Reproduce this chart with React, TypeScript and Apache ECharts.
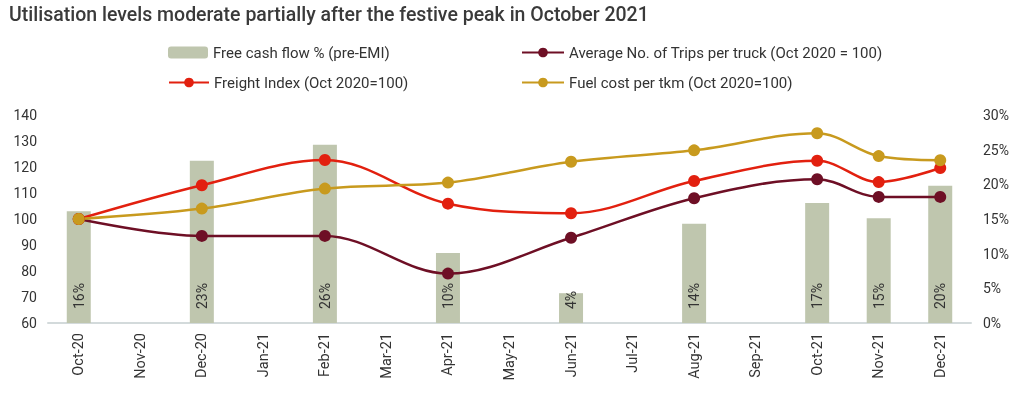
import React, { useEffect, useRef } from "react";
import * as echarts from "echarts";

const months = ["Oct-20", "Nov-20", "Dec-20", "Jan-21", "Feb-21", "Mar-21", "Apr-21", "May-21", "Jun-21", "Jul-21", "Aug-21", "Sep-21", "Oct-21", "Nov-21", "Dec-21"];
const freeCashFlow = [16.1, null, 23.4, null, 25.7, null, 10.1, null, 4.3, null, 14.3, null, 17.3, 15.1, 19.8];
const avgTrips = [100, null, 93.5, null, 93.5, null, 79, null, 92.8, null, 108, null, 115.3, 108.5, 108.5];
const freightIndex = [100, null, 113, null, 122.7, null, 105.9, null, 102.2, null, 114.6, null, 122.4, 114.2, 119.6];
const fuelCost = [100, null, 104, null, 111.7, null, 114, null, 122, null, 126.4, null, 133, 124.2, 122.6];

const names = [
  "Free cash flow % (pre-EMI)",
  "Average No. of Trips per truck (Oct 2020 = 100)",
  "Freight Index (Oct 2020=100)",
  "Fuel cost per tkm (Oct 2020=100)",
];

export default function App() {
  const ref = useRef<HTMLDivElement>(null);
  useEffect(() => {
    if (!ref.current) return;
    const chart = echarts.init(ref.current, null, { renderer: "svg" });
    const font = "Roboto, 'Noto Sans', sans-serif";
    const legendText = { fontSize: 15, color: "#333", fontFamily: font };
    const mkLegend = (name: string, left: number, top: number, w: number) => ({
      data: [name],
      left,
      top,
      itemWidth: w,
      itemHeight: 12,
      itemGap: 4,
      textStyle: legendText,
      selectedMode: false,
    });
    const lineSeries = (name: string, data: (number | null)[], color: string) => ({
      name,
      type: "line",
      data,
      yAxisIndex: 0,
      connectNulls: true,
      smooth: 0.35,
      symbol: "circle",
      symbolSize: 12,
      lineStyle: { color, width: 2.5 },
      itemStyle: { color },
      z: 3,
    });
    chart.setOption({
      animation: false,
      textStyle: { fontFamily: font },
      title: {
        text: "Utilisation levels moderate partially after the festive peak in October 2021",
        left: 4,
        top: -1,
        textStyle: { fontSize: 19.5, fontWeight: 500, color: "#3a3a3a", fontFamily: font },
      },
      legend: [
        mkLegend(names[0], 163, 40, 40),
        mkLegend(names[1], 516, 40, 42),
        mkLegend(names[2], 163, 70, 40),
        mkLegend(names[3], 516, 70, 42),
      ],
      grid: { left: 48, right: 53, top: 115, bottom: 73 },
      xAxis: {
        type: "category",
        data: months,
        boundaryGap: true,
        axisTick: { show: false },
        axisLine: { lineStyle: { color: "#d3dadb", width: 2 } },
        axisLabel: { rotate: 90, fontSize: 14.5, color: "#333", margin: 10, fontFamily: font },
      },
      yAxis: [
        {
          type: "value",
          min: 60,
          max: 140,
          interval: 10,
          splitLine: { show: false },
          axisLine: { show: false },
          axisTick: { show: false },
          axisLabel: { fontSize: 14, color: "#333", margin: 11, fontFamily: font },
        },
        {
          type: "value",
          min: 0,
          max: 30,
          interval: 5,
          splitLine: { show: false },
          axisLine: { show: false },
          axisTick: { show: false },
          axisLabel: { fontSize: 14, color: "#333", margin: 12, formatter: "{value}%", fontFamily: font },
        },
      ],
      series: [
        {
          name: names[0],
          type: "bar",
          data: freeCashFlow,
          yAxisIndex: 1,
          barWidth: 24,
          itemStyle: { color: "#bfc6ae" },
          label: {
            show: true,
            position: "insideBottom",
            rotate: 90,
            align: "left",
            verticalAlign: "middle",
            distance: 14,
            fontSize: 14,
            color: "#333",
            fontFamily: font,
            formatter: (p: any) => Math.round(p.value) + "%",
          },
          z: 1,
        },
        lineSeries(names[1], avgTrips, "#6e0f25"),
        lineSeries(names[2], freightIndex, "#e2200f"),
        lineSeries(names[3], fuelCost, "#c89a1e"),
      ],
    });
    return () => chart.dispose();
  }, []);
  return <div ref={ref} style={{ position: "fixed", left: 0, top: 0, width: 1024, height: 396 }} />;
}
